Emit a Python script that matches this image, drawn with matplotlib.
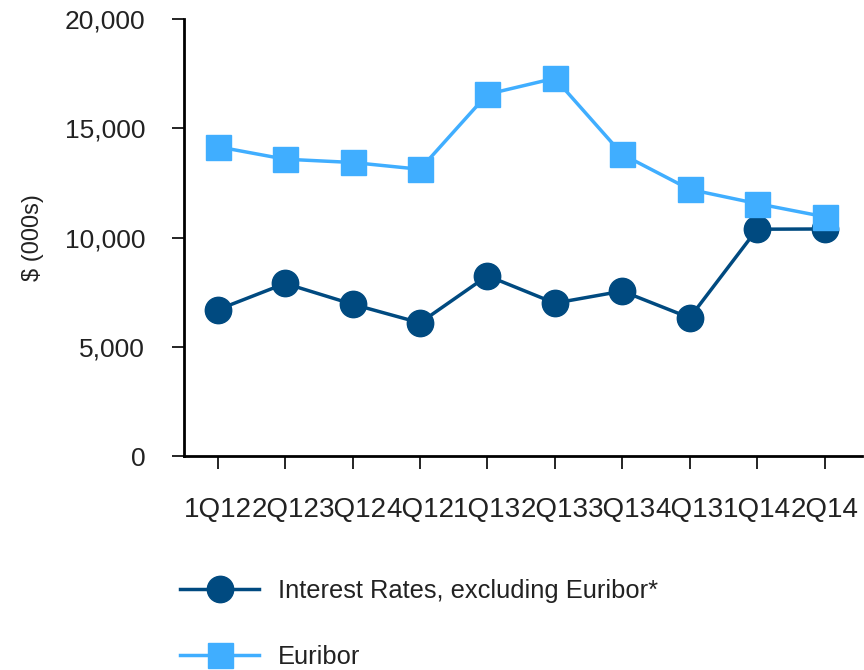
import matplotlib.pyplot as plt
from matplotlib.ticker import FuncFormatter

quarters = ["1Q12", "2Q12", "3Q12", "4Q12", "1Q13", "2Q13", "3Q13", "4Q13", "1Q14", "2Q14"]
interest_rates = [6700, 7900, 6950, 6100, 8250, 7000, 7550, 6330, 10380, 10390]
euribor = [14150, 13580, 13430, 13120, 16550, 17280, 13800, 12200, 11550, 10950]

plt.rcParams['font.family'] = ['Liberation Sans', 'DejaVu Sans']

dark = '#004a80'
light = '#40aeff'
text_color = '#222222'

fig = plt.figure(figsize=(8.64, 6.70), dpi=100)
ax = fig.add_axes([0.213, 0.319, 0.785, 0.653])

x = range(len(quarters))
ax.plot(x, interest_rates, color=dark, lw=2.5, marker='o', ms=19,
        label="Interest Rates, excluding Euribor*")
ax.plot(x, euribor, color=light, lw=2.5, marker='s', ms=18, label="Euribor")

ax.set_xlim(-0.5, 9.56)
ax.set_ylim(0, 20000)
ax.set_yticks([0, 5000, 10000, 15000, 20000])
ax.yaxis.set_major_formatter(FuncFormatter(lambda v, p: f"{v:,.0f}"))
ax.set_xticks(list(x))
ax.set_xticklabels(quarters)

for s in ['top', 'right']:
    ax.spines[s].set_visible(False)
for s in ['left', 'bottom']:
    ax.spines[s].set_linewidth(2)
    ax.spines[s].set_color('black')

ax.tick_params(axis='y', length=9, width=1.2, pad=19, labelsize=19, labelcolor=text_color)
ax.tick_params(axis='x', length=9, width=1.2, pad=20, labelsize=20, labelcolor=text_color)
ax.set_ylabel("$ (000s)", fontsize=17, color=text_color, labelpad=15)

fig.legend(loc='upper left', bbox_to_anchor=(0.2083, 0.136), frameon=False,
           fontsize=18.4, handlelength=3.1, labelspacing=1.64, handletextpad=0.74,
           borderpad=0, borderaxespad=0, labelcolor=text_color)

fig.savefig("out.png", dpi=100)
